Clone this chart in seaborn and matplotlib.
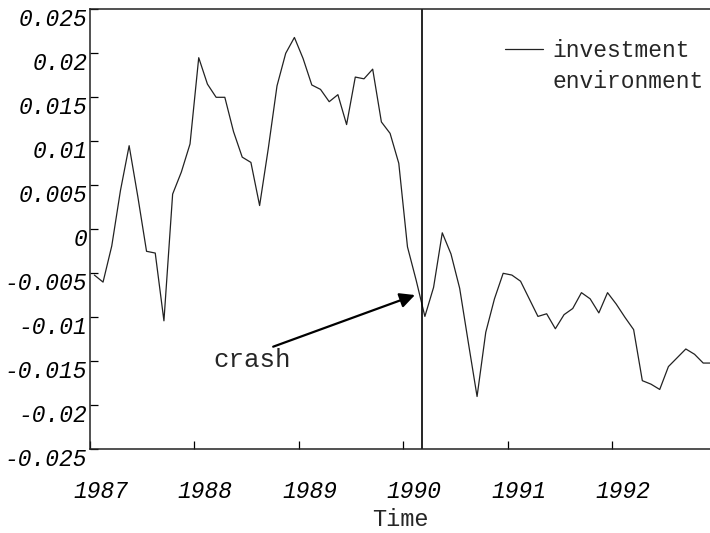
import numpy as np
import pandas as pd
import matplotlib
matplotlib.use("Agg")
import matplotlib.pyplot as plt
from matplotlib.lines import Line2D
from matplotlib.transforms import ScaledTranslation
import seaborn as sns

# ---- data (monthly) ----
start_year = 1987
values = [
    -0.0052, -0.0060, -0.0019, 0.0044, 0.0095, 0.0037, -0.0025, -0.0027,
    -0.0104, 0.0040, 0.0065, 0.0097, 0.0195, 0.0165, 0.0150, 0.0150,
    0.0111, 0.0082, 0.0076, 0.0027, 0.0092, 0.0163, 0.0200, 0.0218,
    0.0194, 0.0164, 0.0159, 0.0145, 0.0153, 0.0119, 0.0173, 0.0171,
    0.0182, 0.0122, 0.0109, 0.0075, -0.0020, -0.0058, -0.0099, -0.0066,
    -0.0004, -0.0028, -0.0067, -0.0129, -0.0190, -0.0117, -0.0079, -0.0050,
    -0.0052, -0.0059, -0.0079, -0.0099, -0.0096, -0.0113, -0.0097, -0.0090,
    -0.0072, -0.0079, -0.0095, -0.0072, -0.0085, -0.0100, -0.0114, -0.0172,
    -0.0176, -0.0182, -0.0156, -0.0146, -0.0136, -0.0142, -0.0152, -0.0152,
]
x_ticks = [1987, 1988, 1989, 1990, 1991, 1992]
x_tick_labels = ["1987", "1988", "1989", "1990", "1991", "1992"]
y_ticks = [0.025, 0.02, 0.015, 0.01, 0.005, 0, -0.005, -0.01, -0.015, -0.02, -0.025]
y_tick_labels = ["0.025", "0.02", "0.015", "0.01", "0.005", "0",
                 "-0.005", "-0.01", "-0.015", "-0.02", "-0.025"]
crash_time = 1990.18
series_label = ["investment", "environment"]

months = np.arange(len(values))
time = start_year + (months + 0.5) / 12.0
df = pd.DataFrame({"Time": time, "value": values})

sns.set_style("white")
plt.rcParams["font.family"] = ["Liberation Mono", "DejaVu Sans Mono"]

fig = plt.figure(figsize=(7.1, 5.33), dpi=100)
ax = fig.add_axes([90 / 710, 83.7 / 533, 620 / 710, (449.3 - 9.3) / 533])

sns.lineplot(data=df, x="Time", y="value", ax=ax, color="#222222", linewidth=0.9)
ax.axvline(crash_time, color="black", linewidth=1.2)

ax.set_xlim(1987, 1992.94)
ax.set_ylim(-0.025, 0.025)

ax.set_xticks(x_ticks)
ax.set_xticklabels(x_tick_labels, fontstyle="italic", fontsize=16.5)
ax.set_yticks(y_ticks)
ax.set_yticklabels(y_tick_labels, fontstyle="italic", fontsize=16.5, va="top")
ax.tick_params(axis="x", bottom=True, top=False, direction="in", length=6,
               width=0.9, pad=22, colors="black")
ax.tick_params(axis="y", left=True, right=False, direction="in", length=6,
               width=0.9, pad=2, colors="black")

for lab in ax.get_xticklabels():
    lab.set_transform(lab.get_transform() + ScaledTranslation(0.11, 0, fig.dpi_scale_trans))
for lab in ax.get_yticklabels():
    lab.set_transform(lab.get_transform() + ScaledTranslation(0, 0.01, fig.dpi_scale_trans))

ax.set_xlabel("Time", fontsize=17, labelpad=4)
ax.set_ylabel("")

for side in ["left", "bottom", "top"]:
    ax.spines[side].set_visible(True)
    ax.spines[side].set_color("#222222")
    ax.spines[side].set_linewidth(1.1)
ax.spines["right"].set_visible(False)

ax.annotate("", xy=(1990.113, -0.00747), xytext=(1988.755, -0.01334),
            arrowprops=dict(arrowstyle="-|>,head_length=0.9,head_width=0.45",
                            color="black", lw=1.6, shrinkA=0, shrinkB=0))
ax.text(1988.18, -0.01561, "crash", fontsize=18.5, ha="left", va="baseline")

h1 = Line2D([], [], color="#222222", linewidth=0.9)
h2 = Line2D([], [], color="none")
ax.legend([h1, h2], series_label, loc="upper left",
          bbox_to_anchor=(505 / 710, 1 - 39 / 533), bbox_transform=fig.transFigure,
          frameon=False, fontsize=16.5, handlelength=1.66, handletextpad=0.4,
          labelspacing=0.35, borderpad=0, borderaxespad=0)

fig.savefig("out.png", dpi=100)
